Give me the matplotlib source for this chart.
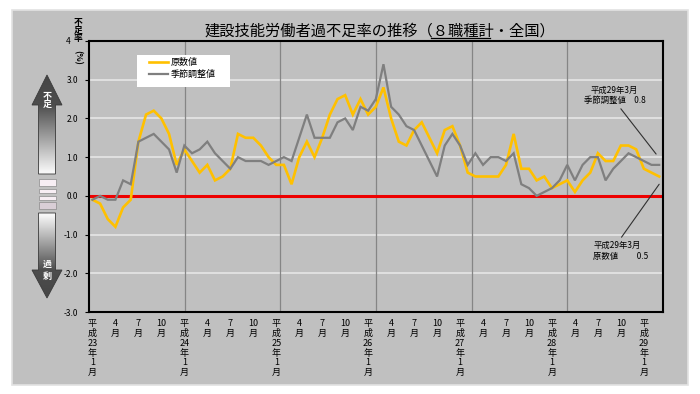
import numpy as np
import matplotlib
matplotlib.use('Agg')
import matplotlib.pyplot as plt
from matplotlib.patches import Rectangle, Polygon
from matplotlib.collections import PatchCollection
from matplotlib.lines import Line2D

plt.rcParams['font.family'] = ['Noto Sans CJK JP', 'DejaVu Sans']

# ---------------- data ----------------
start_year = 23          # 平成23年1月 から
end_year, end_month = 29, 3
series_names = ['原数値', '季節調整値']
genshu = [-0.1, -0.2, -0.6, -0.8, -0.3, -0.1, 1.4, 2.1, 2.2, 2.0,
          1.6, 0.8, 1.2, 0.9, 0.6, 0.8, 0.4, 0.5, 0.7, 1.6,
          1.5, 1.5, 1.3, 1.0, 0.8, 0.8, 0.3, 1.0, 1.4, 1.0,
          1.5, 2.1, 2.5, 2.6, 2.1, 2.5, 2.1, 2.3, 2.8, 2.0,
          1.4, 1.3, 1.7, 1.9, 1.5, 1.1, 1.7, 1.8, 1.3, 0.6,
          0.5, 0.5, 0.5, 0.5, 0.8, 1.6, 0.7, 0.7, 0.4, 0.5,
          0.2, 0.3, 0.4, 0.1, 0.4, 0.6, 1.1, 0.9, 0.9, 1.3,
          1.3, 1.2, 0.7, 0.6, 0.5]
kisetsu = [-0.1, 0.0, -0.1, -0.1, 0.4, 0.3, 1.4, 1.5, 1.6, 1.4,
           1.2, 0.6, 1.3, 1.1, 1.2, 1.4, 1.1, 0.9, 0.7, 1.0,
           0.9, 0.9, 0.9, 0.8, 0.9, 1.0, 0.9, 1.5, 2.1, 1.5,
           1.5, 1.5, 1.9, 2.0, 1.7, 2.3, 2.2, 2.5, 3.4, 2.3,
           2.1, 1.8, 1.7, 1.3, 0.9, 0.5, 1.3, 1.6, 1.3, 0.8,
           1.1, 0.8, 1.0, 1.0, 0.9, 1.1, 0.3, 0.2, 0.0, 0.1,
           0.2, 0.4, 0.8, 0.4, 0.8, 1.0, 1.0, 0.4, 0.7, 0.9,
           1.1, 1.0, 0.9, 0.8, 0.8]
ytick_values = [-3, -2, -1, 0, 1, 2, 3, 4]
ytick_labels = ['-3.0', '-2.0', '-1.0', '0.0', '1.0', '2.0', '3.0', '4']
title = '建設技能労働者過不足率の推移（８職種計・全国）'
title_pre, title_under = '建設技能労働者過不足率の推移（', '８職種計'
annot_sa = '平成29年3月\n季節調整値　0.8'
annot_raw = '平成29年3月\n原数値　　 0.5'

# category labels
months = []
y, m = start_year, 1
while (y, m) <= (end_year, end_month):
    months.append((y, m))
    m += 1
    if m > 12:
        m, y = 1, y + 1
xs = np.arange(len(months))
tick_pos, tick_lab = [], []
for i, (yy, mm) in enumerate(months):
    if mm == 1:
        tick_pos.append(i); tick_lab.append('平\n成\n%d\n年\n1\n月' % yy)
    elif mm in (4, 7, 10):
        tick_pos.append(i); tick_lab.append('%d\n月' % mm)

# ---------------- figure ----------------
W, H = 700, 394
fig = plt.figure(figsize=(7, 3.94), dpi=100, facecolor='white')
bg = fig.add_axes([0, 0, 1, 1], zorder=0)
bg.set_xlim(0, W); bg.set_ylim(H, 0); bg.axis('off')
bg.add_patch(Rectangle((12, 10), 676, 375, facecolor='#c0c0c0', edgecolor='#e2e2e2', lw=1.2))

def px(x0, y0, x1, y1):
    return [x0 / W, 1 - y1 / H, (x1 - x0) / W, (y1 - y0) / H]

ax = fig.add_axes(px(89, 41, 663, 312), zorder=1)
ax.set_facecolor('#c0c0c0')
ax.set_xlim(-0.45, len(months) - 0.5)
ax.set_ylim(-3, 4)
for s in ax.spines.values():
    s.set_color('black'); s.set_linewidth(1.5)

for v in ytick_values:
    if v not in (0, -3, 4):
        ax.axhline(v, color='#e6e6e6', lw=1.2, zorder=1)
xl = ax.get_xlim()
for gx in np.linspace(xl[0], xl[1], 7)[1:-1]:
    ax.axvline(gx, color='#858585', lw=0.9, zorder=1)

ax.axhline(0, color='#ee0000', lw=2.2, zorder=2)
ax.plot(xs, genshu, color='#FFC000', lw=1.9, zorder=3, solid_joinstyle='miter')
ax.plot(xs, kisetsu, color='#7f7f7f', lw=1.6, zorder=4, solid_joinstyle='miter')

ax.set_yticks(ytick_values, ytick_labels)
ax.tick_params(axis='y', length=3, width=0.8, pad=5, labelsize=6)
# the top "4" sits left of the vertical axis caption, as in the reference
ax.get_yticklabels()[-1].set_horizontalalignment('right')
from matplotlib.transforms import offset_copy
top_lab = ax.get_yticklabels()[-1]
top_lab.set_transform(offset_copy(top_lab.get_transform(), fig=fig, x=-7, y=0, units='dots'))
ax.set_xticks(tick_pos, tick_lab)
ax.tick_params(axis='x', length=0, pad=5, labelsize=6.5)
for t in ax.get_xticklabels():
    t.set_linespacing(1.12)

# legend (white box + frameless legend)
ax.add_patch(Rectangle((137, 55), 93, 32, transform=bg.transData, facecolor='white',
                       edgecolor='none', zorder=5))
handles = [Line2D([], [], color='#FFC000', lw=1.9), Line2D([], [], color='#7f7f7f', lw=1.6)]
leg = ax.legend(handles, series_names, loc='upper left', bbox_to_anchor=(148, 57),
                bbox_transform=bg.transData, borderaxespad=0, fontsize=6.5,
                frameon=False, borderpad=0.1, handlelength=2.1, handletextpad=0.35,
                labelspacing=0.35)
leg.set_zorder(6)

# annotations
ax.annotate(annot_sa, xy=(73.6, 1.08), xytext=(68.2, 2.6), textcoords='data',
            ha='center', va='center', fontsize=6, multialignment='center',
            arrowprops=dict(arrowstyle='-', color='#303030', lw=0.8,
                            relpos=(0.55, 0), shrinkA=1, shrinkB=0), zorder=6)
ax.annotate(annot_raw, xy=(74.0, 0.30), xytext=(65.4, -1.42), textcoords='data',
            ha='left', va='center', fontsize=6, multialignment='left',
            arrowprops=dict(arrowstyle='-', color='#303030', lw=0.8,
                            relpos=(0.46, 1), shrinkA=1, shrinkB=0), zorder=6)

# y label (vertical writing)
for ch, yy in zip('不足率', (22, 30, 38.5)):
    bg.text(78, yy, ch, ha='center', va='center', fontsize=6.3, weight='bold')
bg.text(78, 57, '(%)', ha='center', va='center', fontsize=6.3, rotation=270, weight='bold')

# title with underline
title_x, title_y, title_fs = 380, 31, 11
tt = bg.text(title_x, title_y, title, ha='center', va='center', fontsize=title_fs)
r = fig.canvas.get_renderer()
bb = tt.get_window_extent(r)
def _w(s):
    tmp = bg.text(0, 0, s, fontsize=title_fs)
    w = tmp.get_window_extent(r).width
    tmp.remove()
    return w
ux0 = bb.x0 + _w(title_pre) - 2
ux1 = ux0 + _w(title_under) - 2
bg.add_line(Line2D([ux0, ux1], [38.3, 38.3], color='black', lw=0.9))

# left double arrow (decoration) with vertical gradient stripes
top_poly = Polygon([(47, 75), (62, 105), (55.5, 105), (55.5, 174), (38.5, 174),
                    (38.5, 105), (32, 105)], closed=True, facecolor='none',
                   edgecolor='#3a3a3a', lw=0.6, zorder=3)
bot_poly = Polygon([(38.5, 213), (55.5, 213), (55.5, 270), (62, 270), (47, 298),
                    (32, 270), (38.5, 270)], closed=True, facecolor='none',
                   edgecolor='#3a3a3a', lw=0.6, zorder=3)
edges = np.linspace(75, 298, 224)
for poly in (top_poly, bot_poly):
    bg.add_patch(poly)
    mids = 0.5 * (edges[:-1] + edges[1:])
    vals = np.interp(mids, [75, 105, 172, 215, 270, 298], [0.27, 0.30, 0.97, 0.97, 0.30, 0.27])
    rects = [Rectangle((30, e0), 34, e1 - e0 + 0.3) for e0, e1 in zip(edges[:-1], edges[1:])]
    pc = PatchCollection(rects, facecolors=[str(v) for v in vals], edgecolors='none', zorder=2)
    bg.add_collection(pc)
    pc.set_clip_path(poly)
for (y0, h, c) in [(179, 7, '#f7eef4'), (189, 4, '#f7eef4'), (196, 4, '#f7eef4'), (202, 7, '#d9ced6')]:
    bg.add_patch(Rectangle((38.5, y0), 17, h, facecolor=c, edgecolor='#8a8a8a', lw=0.5))
for ch, yy in (('不', 96), ('足', 104), ('過', 264), ('剰', 276)):
    bg.text(47, yy, ch, ha='center', va='center', fontsize=6.5, color='white', weight='bold', zorder=4)
bg.set_xlim(0, W); bg.set_ylim(H, 0)

fig.savefig('out.png', dpi=100, facecolor='white')
